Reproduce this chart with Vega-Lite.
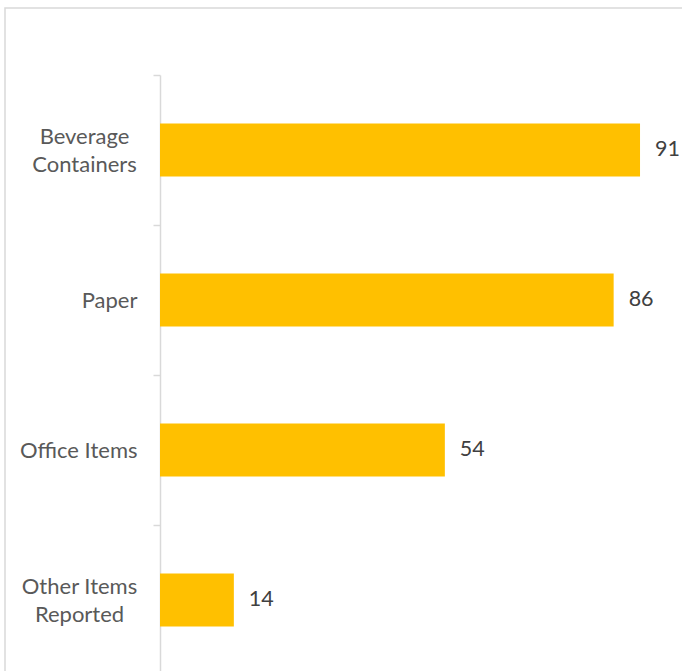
{
  "$schema": "https://vega.github.io/schema/vega-lite/v6.json",
  "autosize": {"type": "none"},
  "padding": {"left": 5, "top": 8, "right": 0, "bottom": 0},
  "width": 678,
  "height": 664,
  "background": "white",
  "config": {
    "view": {"stroke": "#d9d9d9", "strokeWidth": 1.5},
    "font": "Lato"
  },
  "data": {
    "values": [
      {"category": "Beverage Containers", "value": 91},
      {"category": "Paper", "value": 86},
      {"category": "Office Items", "value": 54},
      {"category": "Other Items Reported", "value": 14}
    ]
  },
  "encoding": {
    "y": {
      "field": "category",
      "type": "nominal",
      "sort": null,
      "scale": {"range": [67, 667], "paddingInner": 0, "paddingOuter": 0},
      "axis": {
        "title": null,
        "offset": -155,
        "domainColor": "#d9d9d9",
        "domainWidth": 1.5,
        "tickColor": "#d9d9d9",
        "tickWidth": 1.5,
        "tickSize": 7,
        "tickBand": "extent",
        "labelPadding": {"condition": [
          {"test": "datum.value == 'Beverage Containers'", "value": 69},
          {"test": "datum.value == 'Other Items Reported'", "value": 74}
        ], "value": 16},
        "labelAlign": {"condition": {"test": "datum.value == 'Beverage Containers' || datum.value == 'Other Items Reported'", "value": "center"}, "value": "right"},
        "labelOffset": {"condition": {"test": "datum.value == 'Beverage Containers' || datum.value == 'Other Items Reported'", "value": -14}, "value": 0},
        "labelFont": "Lato",
        "labelFontSize": 22,
        "labelColor": "#595959",
        "labelLineHeight": 28,
        "labelLimit": 200,
        "labelExpr": "datum.value == 'Beverage Containers' ? ['Beverage', 'Containers'] : datum.value == 'Other Items Reported' ? ['Other Items', 'Reported'] : datum.value"
      }
    },
    "x": {
      "field": "value",
      "type": "quantitative",
      "scale": {"domain": [0, 100], "range": [155, 682.5]},
      "axis": null
    }
  },
  "layer": [
    {
      "mark": {"type": "bar", "color": "#FFC000", "height": {"band": 0.353}}
    },
    {
      "mark": {"type": "text", "align": "left", "baseline": "middle", "dx": 15, "fontSize": 21.5, "color": "#404040", "font": "Lato"},
      "encoding": {"text": {"field": "value", "type": "quantitative"}}
    }
  ]
}
